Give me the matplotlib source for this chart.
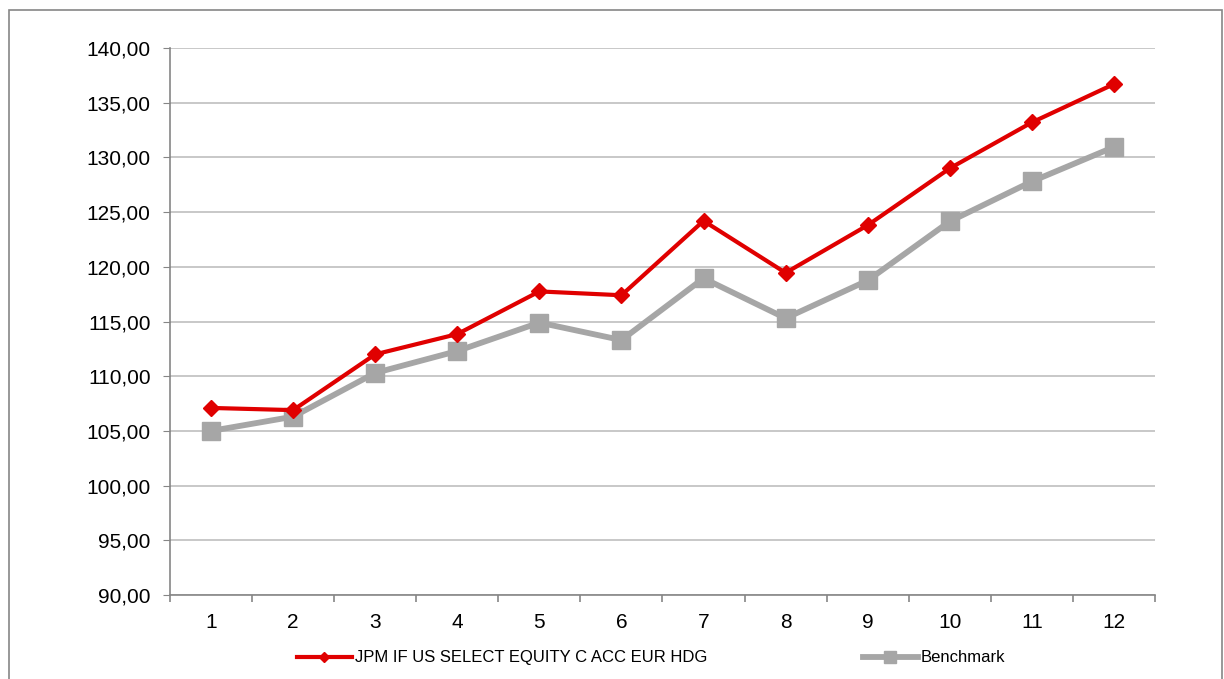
import matplotlib.pyplot as plt
from matplotlib.patches import Rectangle
from matplotlib.ticker import FuncFormatter, MultipleLocator

plt.rcParams['font.family'] = ['Liberation Sans', 'DejaVu Sans']

periods = list(range(1, 13))
fund = [107.1, 106.9, 112.0, 113.85, 117.75, 117.4, 124.2, 119.45, 123.8, 129.0, 133.2, 136.7]
bench = [105.0, 106.3, 110.3, 112.3, 114.9, 113.3, 118.95, 115.3, 118.75, 124.15, 127.8, 130.95]
fund_name = "JPM IF US SELECT EQUITY C ACC EUR HDG"
bench_name = "Benchmark"

fig = plt.figure(figsize=(12.24, 6.79), dpi=100)
ax = fig.add_axes([0.1389, 0.1237, 0.8047, 0.8056])

# outer frame like the Excel chart area
fig.patches.append(Rectangle((9 / 1224, -0.05), 1213 / 1224, 1.05 - 10 / 679,
                             transform=fig.transFigure, fill=False,
                             edgecolor='#868686', linewidth=1.2))

ax.plot(periods, fund, color='#e00000', linewidth=3.0, marker='D',
        markersize=8.5, label=fund_name, zorder=4)
ax.plot(periods, bench, color='#a6a6a6', linewidth=4.2, marker='s',
        markersize=13.5, label=bench_name, zorder=3)

ax.set_xlim(0.5, 12.5)
ax.set_ylim(90, 140)
ax.yaxis.set_major_locator(MultipleLocator(5))
ax.yaxis.set_major_formatter(FuncFormatter(lambda v, p: f"{v:.2f}".replace('.', ',')))
ax.set_xticks(periods)
ax.set_xticks([p - 0.5 for p in periods] + [12.5], minor=True)

ax.grid(axis='y', color='#bfbfbf', linewidth=1.2)
ax.set_axisbelow(True)
for s in ['top', 'right']:
    ax.spines[s].set_visible(False)
for s in ['left', 'bottom']:
    ax.spines[s].set_color('#868686')
    ax.spines[s].set_linewidth(1.2)

ax.tick_params(axis='y', labelsize=15, length=5, color='#868686', pad=9)
ax.tick_params(axis='x', which='major', labelsize=15, length=0, pad=13)
ax.tick_params(axis='x', which='minor', length=5, color='#868686', width=1.2)

fig.legend(loc='center', bbox_to_anchor=(0.532, 0.031), ncol=2, frameon=False,
           fontsize=12, columnspacing=9.3, handlelength=3.3, handletextpad=0.2,
           markerscale=0.6)

fig.savefig("out.png", dpi=100)
